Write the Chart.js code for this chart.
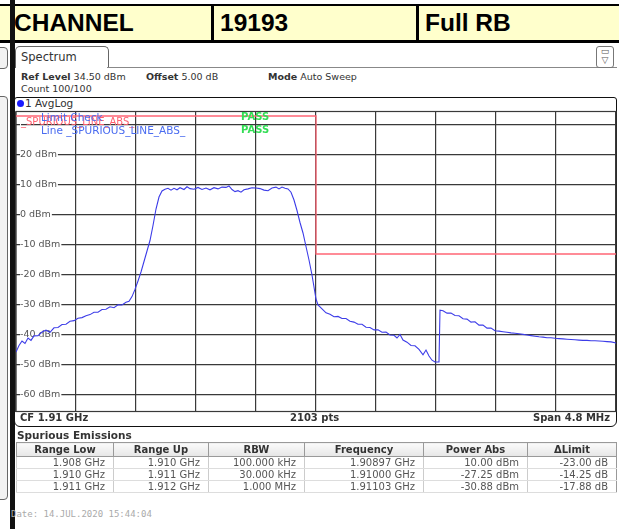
<!DOCTYPE html>
<html>
<head>
<meta charset="utf-8">
<script src="https://cdn.jsdelivr.net/npm/chart.js@4.4.0/dist/chart.umd.min.js"></script>
<style>
    body { margin: 0; width: 619px; height: 529px; background: #fff; position: relative; overflow: hidden;
           font-family: "DejaVu Sans", sans-serif; color: #333; }
    .abs { position: absolute; white-space: nowrap; }
    .hdr { font-family: "Liberation Sans", Arial, sans-serif; font-weight: bold; font-size: 24.5px; color: #000; top: 9px; }
    .b { font-weight: bold; }
    #tbl { position: absolute; left: 16px; top: 442px; width: 600px; border-collapse: collapse; table-layout: fixed;
           font-size: 10px; border: 1px solid #999; }
    #tbl th { font-weight: bold; height: 13px; padding: 0; background: linear-gradient(#fafafa, #e6e6e6);
              border-bottom: 1px solid #999; border-left: 1px solid #999; color: #333; }
    #tbl td { height: 11px; padding: 0 8px 0 0; text-align: right; color: #555; border-left: 1px solid #ccc;
              border-bottom: 1px solid #ddd; line-height: 11px; }
</style>
</head>
<body>
<!-- header row -->
<div class="abs" style="left:0;top:4px;width:619px;height:34px;background:#ffffcc;border-top:2px solid #000;border-bottom:3px solid #000;"></div>
<div class="abs" style="left:211px;top:4px;width:3px;height:39px;background:#000;"></div>
<div class="abs" style="left:416px;top:4px;width:3px;height:39px;background:#000;"></div>
<div class="abs hdr" style="left:14px;">CHANNEL</div>
<div class="abs hdr" style="left:220px;">19193</div>
<div class="abs hdr" style="left:425px;">Full RB</div>

<!-- left window edges -->
<div class="abs" style="left:-12px;top:47px;width:18px;height:20px;border:1px solid #666;border-radius:4px;background:#f2f2f2;"></div>
<div class="abs" style="left:-12px;top:96px;width:18px;height:402px;border:1px solid #666;border-radius:4px;background:#f2f2f2;"></div>
<div class="abs" style="left:10px;top:0;width:5px;height:529px;background:#111;"></div>

<!-- spectrum panel -->
<div class="abs" style="left:15px;top:46px;width:92px;height:21px;border:1px solid #666;border-bottom:none;border-radius:5px 5px 0 0;"></div>
<div class="abs" style="left:21px;top:50px;font-size:11.5px;color:#333;">Spectrum</div>
<div class="abs" style="left:107px;top:67px;width:510px;height:1px;background:#888;"></div>
<div class="abs" style="left:596px;top:46px;width:16px;height:20px;border:1px solid #777;border-radius:3px;font-size:9px;text-align:center;line-height:9px;color:#555;">▭<br>▽</div>
<div class="abs" style="left:21px;top:71px;font-size:9.5px;"><span class="b">Ref Level</span> 34.50 dBm</div>
<div class="abs" style="left:146px;top:71px;font-size:9.5px;"><span class="b">Offset</span> 5.00 dB</div>
<div class="abs" style="left:268px;top:71px;font-size:9.5px;"><span class="b">Mode</span> Auto Sweep</div>
<div class="abs" style="left:21px;top:83px;font-size:9.5px;">Count 100/100</div>

<!-- diagram box -->
<div class="abs" style="left:14px;top:97px;width:601px;height:328px;border:1.5px solid #111;border-radius:3px 3px 6px 6px;"></div>
<div class="abs" style="left:17px;top:100px;width:7px;height:7px;border-radius:50%;background:#1a1aff;"></div>
<div class="abs" style="left:25px;top:97px;font-size:10.5px;">1 AvgLog</div>

<canvas id="spec" class="abs" style="left:10px;top:106px;"></canvas>

<div class="abs" style="left:21px;top:116px;font-size:10px;color:#ff6070;">_SPURIOUS_LINE_ABS_</div>
<div class="abs" style="left:41px;top:111px;font-size:10.5px;color:#4a6cf0;">Limit Check</div>
<div class="abs" style="left:41px;top:124px;font-size:10.5px;color:#4a6cf0;">Line _SPURIOUS_LINE_ABS_</div>
<div class="abs b" style="left:241px;top:111px;font-size:10px;color:#33dd55;">PASS</div>
<div class="abs b" style="left:241px;top:124px;font-size:10px;color:#33dd55;">PASS</div>

<div class="abs b" style="left:20px;top:412px;font-size:10px;">CF 1.91 GHz</div>
<div class="abs b" style="left:290px;top:412px;font-size:10px;">2103 pts</div>
<div class="abs b" style="left:533px;top:412px;font-size:10px;">Span 4.8 MHz</div>

<!-- spurious emissions table -->
<div class="abs b" style="left:17px;top:429px;font-size:10.5px;">Spurious Emissions</div>
<table id="tbl"></table>

<div class="abs" style="left:11px;top:509px;font-family:'DejaVu Sans Mono',monospace;font-size:9px;color:#aaa;">Date: 14.JUL.2020  15:44:04</div>

<script>
// trace 1 (AvgLog), frequency in MHz, level in dBm
var traceFreq = [
    1907.600, 1907.624, 1907.648, 1907.672, 1907.696, 1907.720, 1907.744, 1907.776, 1907.808, 1907.840,
    1907.872, 1907.904, 1907.936, 1907.968, 1908.000, 1908.032, 1908.064, 1908.096, 1908.128, 1908.160,
    1908.192, 1908.224, 1908.256, 1908.288, 1908.320, 1908.352, 1908.384, 1908.416, 1908.448, 1908.480,
    1908.504, 1908.528, 1908.552, 1908.576, 1908.600, 1908.624, 1908.648, 1908.672, 1908.696, 1908.720,
    1908.744, 1908.768, 1908.792, 1908.816, 1908.840, 1908.864, 1908.888, 1908.912, 1908.944, 1908.968,
    1908.992, 1909.024, 1909.056, 1909.088, 1909.120, 1909.152, 1909.184, 1909.216, 1909.248, 1909.280,
    1909.304, 1909.328, 1909.352, 1909.376, 1909.400, 1909.424, 1909.456, 1909.488, 1909.520, 1909.552,
    1909.584, 1909.616, 1909.648, 1909.680, 1909.704, 1909.728, 1909.752, 1909.776, 1909.800, 1909.824,
    1909.848, 1909.872, 1909.896, 1909.920, 1909.944, 1909.968, 1909.984, 1910.000, 1910.016, 1910.048,
    1910.080, 1910.112, 1910.144, 1910.176, 1910.208, 1910.240, 1910.272, 1910.304, 1910.336, 1910.368,
    1910.400, 1910.432, 1910.464, 1910.496, 1910.528, 1910.560, 1910.592, 1910.624, 1910.648, 1910.672,
    1910.696, 1910.728, 1910.760, 1910.792, 1910.824, 1910.856, 1910.880, 1910.904, 1910.928, 1910.952,
    1910.984, 1910.992, 1911.016, 1911.048, 1911.080, 1911.112, 1911.144, 1911.176, 1911.208, 1911.240,
    1911.272, 1911.304, 1911.336, 1911.368, 1911.400, 1911.432, 1911.464, 1911.496, 1911.528, 1911.560,
    1911.592, 1911.624, 1911.656, 1911.688, 1911.720, 1911.752, 1911.784, 1911.816, 1911.848, 1911.880,
    1911.912, 1911.944, 1911.976, 1912.008, 1912.040, 1912.072, 1912.104, 1912.136, 1912.168, 1912.200,
    1912.232, 1912.264, 1912.296, 1912.328, 1912.360, 1912.392, 1912.400
];
var traceLevel = [
    -45.7, -43.5, -42.0, -42.8, -41.0, -41.8, -40.3, -40.2, -39.0, -38.4,
    -39.1, -37.6, -37.5, -36.5, -36.4, -35.4, -35.2, -34.4, -34.2, -33.6,
    -33.2, -32.4, -32.4, -31.5, -31.4, -30.6, -30.9, -29.9, -30.0, -29.1,
    -28.8, -27.2, -24.8, -22.0, -19.0, -15.5, -12.0, -8.5, -3.5, 2.0,
    6.0, 8.0, 8.6, 8.9, 8.3, 8.9, 8.4, 9.1, 8.5, 9.4,
    8.8, 8.6, 9.2, 8.5, 9.0, 8.4, 9.1, 8.7, 9.3, 9.2,
    9.7, 8.5, 7.8, 8.1, 7.6, 8.4, 8.7, 9.1, 9.0, 8.8,
    8.3, 8.1, 9.0, 9.3, 8.7, 9.3, 8.9, 8.7, 7.6, 5.0,
    1.5, -2.5, -6.0, -10.5, -15.0, -20.0, -24.0, -28.0, -30.0, -31.3,
    -32.6, -33.1, -33.9, -33.8, -34.5, -34.5, -35.4, -35.7, -36.4, -36.4,
    -37.4, -37.5, -38.3, -38.3, -39.1, -39.0, -40.0, -40.1, -41.0, -39.8,
    -41.7, -42.4, -43.5, -43.6, -44.8, -46.6, -45.0, -47.0, -48.4, -49.0,
    -49.0, -31.7, -31.9, -32.7, -32.7, -33.5, -33.6, -34.6, -34.7, -35.7,
    -35.6, -36.7, -36.7, -37.7, -37.7, -38.6, -38.7, -38.9, -39.1, -39.3,
    -39.4, -39.6, -39.8, -40.0, -40.2, -40.4, -40.6, -40.7, -40.9, -40.9,
    -41.1, -41.2, -41.3, -41.4, -41.5, -41.6, -41.7, -41.8, -41.8, -41.9,
    -41.9, -42.0, -42.1, -42.2, -42.3, -42.6, -42.8
];

// limit line _SPURIOUS_LINE_ABS_
var limitFreq = [1907.6, 1910.0, 1910.0, 1912.4];
var limitLevel = [33, 33, -13, -13];

// axis: CF 1.91 GHz, span 4.8 MHz, ref level 34.5 dBm, 10 dB/div
var freqStart = 1907.6;
var freqStop = 1912.4;
var freqGrid = [1907.60, 1908.08, 1908.56, 1909.04, 1909.52, 1910.00, 1910.48, 1910.96, 1911.44, 1911.92, 1912.40];
var levelTop = 34.5;
var levelBottom = -65.5;
var levelGrid = [30, 20, 10, 0, -10, -20, -30, -40, -50, -60];

// spurious emissions table
var tableHead = ['Range Low', 'Range Up', 'RBW', 'Frequency', 'Power Abs', '\u0394Limit'];
var rangeLow = ['1.908 GHz', '1.910 GHz', '1.911 GHz'];
var rangeUp = ['1.910 GHz', '1.911 GHz', '1.912 GHz'];
var rbw = ['100.000 kHz', '30.000 kHz', '1.000 MHz'];
var peakFreq = ['1.90897 GHz', '1.91000 GHz', '1.91103 GHz'];
var powerAbs = ['10.00 dBm', '-27.25 dBm', '-30.88 dBm'];
var deltaLimit = ['-23.00 dB', '-14.25 dB', '-17.88 dB'];

function buildTable() {
    var colW = [97, 95, 96, 119, 104, 89];
    var html = '<colgroup>' + colW.map(w => '<col style="width:' + w + 'px">').join('') + '</colgroup>';
    html += '<tr>' + tableHead.map(h => '<th>' + h + '</th>').join('') + '</tr>';
    for (var i = 0; i < rangeLow.length; i++) {
        html += '<tr>' + [rangeLow[i], rangeUp[i], rbw[i], peakFreq[i], powerAbs[i], deltaLimit[i]]
            .map(c => '<td>' + c + '</td>').join('') + '</tr>';
    }
    document.getElementById('tbl').innerHTML = html;
}

function makeChart() {
    var canvas = document.getElementById('spec');
    canvas.width = 612;
    canvas.height = 312;
    canvas.style.width = '612px';
    canvas.style.height = '312px';

    new Chart(canvas.getContext('2d'), {
        type: 'line',
        data: {
            datasets: [
                {
                    label: 'Limit',
                    data: limitFreq.map((f, i) => ({x: f, y: limitLevel[i]})),
                    borderColor: '#ff6675',
                    borderWidth: 1.3,
                    pointRadius: 0,
                    fill: false
                },
                {
                    label: '1 AvgLog',
                    data: traceFreq.map((f, i) => ({x: f, y: traceLevel[i]})),
                    borderColor: '#3c3ce8',
                    borderWidth: 1.1,
                    pointRadius: 0,
                    tension: 0,
                    fill: false
                }
            ]
        },
        options: {
            responsive: false,
            animation: false,
            layout: { padding: { left: 6, top: 5.5, right: 6, bottom: 6.5 } },
            plugins: {
                legend: { display: false },
                title: { display: false },
                tooltip: { enabled: false }
            },
            scales: {
                x: {
                    type: 'linear',
                    min: freqStart,
                    max: freqStop,
                    afterBuildTicks: s => { s.ticks = freqGrid.map(v => ({value: v})); },
                    afterFit: s => { s.height = 0; s.paddingLeft = 0; s.paddingRight = 0; },
                    ticks: { display: false },
                    grid: { color: '#3a3a3a', lineWidth: 1.2, drawTicks: false },
                    border: { display: false }
                },
                y: {
                    min: levelBottom,
                    max: levelTop,
                    afterBuildTicks: s => { s.ticks = levelGrid.map(v => ({value: v})); },
                    afterFit: s => { s.width = 0; s.paddingTop = 0; s.paddingBottom = 0; },
                    ticks: {
                        mirror: true,
                        padding: 4,
                        color: '#555',
                        font: { family: 'DejaVu Sans', size: 9.5 },
                        showLabelBackdrop: true,
                        backdropColor: '#fff',
                        backdropPadding: { left: 0, right: 1, top: 0, bottom: 0 },
                        callback: v => (v === 30 ? '' : v + ' dBm')
                    },
                    grid: { color: '#3a3a3a', lineWidth: 1.2, drawTicks: false },
                    border: { display: false }
                }
            }
        },
        plugins: [{
            // frame lines on the right and bottom edge of the grid
            id: 'frame',
            beforeDatasetsDraw: function (chart) {
                var a = chart.chartArea, ctx = chart.ctx;
                ctx.save();
                ctx.strokeStyle = '#3a3a3a';
                ctx.lineWidth = 1.2;
                ctx.strokeRect(a.left, a.top, a.right - a.left, a.bottom - a.top);
                ctx.restore();
            }
        }]
    });
}

buildTable();
makeChart();
</script>
</body>
</html>
